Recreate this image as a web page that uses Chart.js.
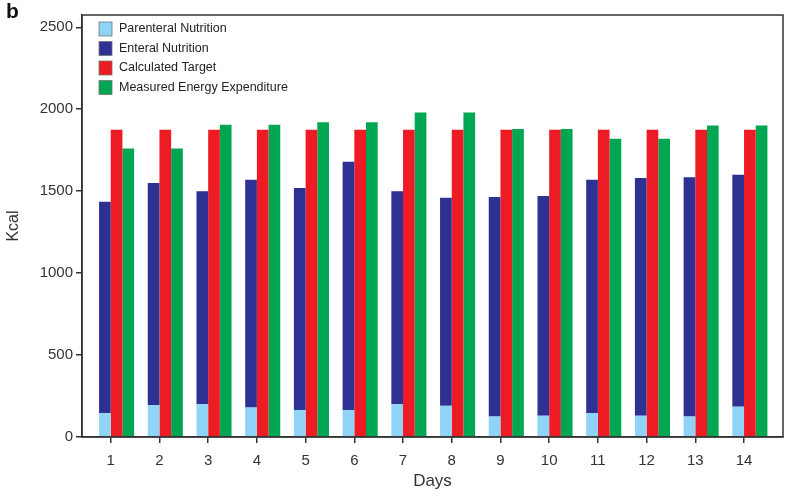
<!DOCTYPE html>
<html lang="en">
  <head>
    <meta charset="UTF-8" />
    <title>Energy intake by day</title>
    <script src="https://cdn.jsdelivr.net/npm/chart.js"></script>
    <style>
      body {
        margin: 0;
        background: #fff;
      }
      #wrap {
        width: 796px;
        height: 496px;
      }
    </style>
  </head>
  <body>
    <div id="wrap"><canvas id="energyChart" width="796" height="496"></canvas></div>
    <script>
      // Days on the x axis
      const days = [1, 2, 3, 4, 5, 6, 7, 8, 9, 10, 11, 12, 13, 14]
      // Kcal values
      const parenteral = [145, 195, 200, 180, 165, 165, 200, 190, 125, 130, 145, 130, 125, 185]
      const enteral = [1290, 1355, 1300, 1390, 1355, 1515, 1300, 1270, 1340, 1340, 1425, 1450, 1460, 1415]
      const calculatedTarget = [1875, 1875, 1875, 1875, 1875, 1875, 1875, 1875, 1875, 1875, 1875, 1875, 1875, 1875]
      const measuredEE = [1760, 1760, 1905, 1905, 1920, 1920, 1980, 1980, 1880, 1880, 1820, 1820, 1900, 1900]
      const yTicks = [0, 500, 1000, 1500, 2000, 2500]

      const axisColor = '#333'
      const fontFamily = 'Liberation Sans, Arial, sans-serif'

      // frame around plot + panel letter + legend inside the plot
      const decorations = {
        id: 'decorations',
        afterDraw(chart) {
          const ctx = chart.ctx
          const a = chart.chartArea
          ctx.save()
          ctx.strokeStyle = axisColor
          ctx.lineWidth = 1.5
          ctx.strokeRect(a.left, a.top, a.right - a.left, a.bottom - a.top)

          ctx.fillStyle = '#111'
          ctx.font = 'bold 21px ' + fontFamily
          ctx.textBaseline = 'alphabetic'
          ctx.fillText('b', 6, 18)

          // legend
          let y = a.top + 7
          ctx.font = '12.5px ' + fontFamily
          ctx.textBaseline = 'middle'
          chart.data.datasets.forEach(ds => {
            if (!ds.label) return
            ctx.fillStyle = ds.backgroundColor
            ctx.fillRect(a.left + 17, y, 13, 14)
            ctx.strokeStyle = '#777'
            ctx.lineWidth = 0.8
            ctx.strokeRect(a.left + 17, y, 13, 14)
            ctx.fillStyle = '#222'
            ctx.fillText(ds.label, a.left + 37, y + 7)
            y += 19.5
          })
          ctx.restore()
        }
      }

      new Chart(document.getElementById('energyChart'), {
        type: 'bar',
        data: {
          labels: days,
          datasets: [
            // empty slot so the tick falls between the nutrition bar and the target bar
            { label: '', data: days.map(() => 0), stack: 'spacer', backgroundColor: 'rgba(0,0,0,0)' },
            { label: 'Parenteral Nutrition', data: parenteral, stack: 'nutrition', backgroundColor: '#8fd3f6' },
            { label: 'Enteral Nutrition', data: enteral, stack: 'nutrition', backgroundColor: '#2e3192' },
            { label: 'Calculated Target', data: calculatedTarget, stack: 'target', backgroundColor: '#ed1c24' },
            { label: 'Measured Energy Expenditure', data: measuredEE, stack: 'measured', backgroundColor: '#00a651' }
          ]
        },
        options: {
          responsive: false,
          animation: false,
          layout: { padding: { top: 15, right: 13, left: 0, bottom: 0 } },
          datasets: {
            bar: { categoryPercentage: 0.96, barPercentage: 1.0, borderWidth: 0 }
          },
          plugins: {
            legend: { display: false },
            tooltip: { enabled: false }
          },
          scales: {
            x: {
              type: 'linear',
              min: 0.41,
              max: 14.8,
              offset: false,
              afterFit: scale => {
                scale.height = 59
              },
              ticks: {
                stepSize: 1,
                includeBounds: false,
                color: axisColor,
                padding: 9,
                font: { family: fontFamily, size: 15 }
              },
              grid: {
                offset: false,
                drawOnChartArea: false,
                drawTicks: true,
                tickLength: 6,
                color: axisColor,
                lineWidth: 1.5
              },
              border: { color: axisColor, width: 1.5 },
              title: {
                display: true,
                text: 'Days',
                color: axisColor,
                padding: { top: 0 },
                font: { family: fontFamily, size: 17 }
              }
            },
            y: {
              min: 0,
              max: 2575,
              stacked: true,
              afterFit: scale => {
                scale.width = 82
              },
              afterBuildTicks: scale => {
                scale.ticks = yTicks.map(v => ({ value: v }))
              },
              ticks: {
                color: axisColor,
                padding: 3,
                font: { family: fontFamily, size: 15 },
                callback: v => String(v)
              },
              grid: {
                drawOnChartArea: false,
                drawTicks: true,
                tickLength: 6,
                color: axisColor,
                lineWidth: 1.5
              },
              border: { color: axisColor, width: 1.5 },
              title: {
                display: true,
                text: 'Kcal',
                color: axisColor,
                font: { family: fontFamily, size: 16 }
              }
            }
          }
        },
        plugins: [decorations]
      })
    </script>
  </body>
</html>
